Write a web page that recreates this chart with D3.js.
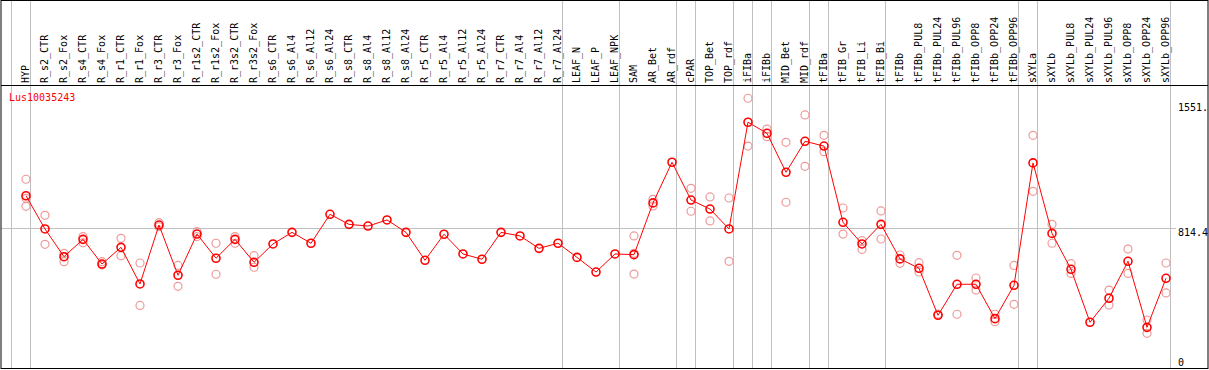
<!DOCTYPE html>
<html>
<head>
<meta charset="utf-8">
<script src="https://cdn.jsdelivr.net/npm/d3@7"></script>
<style>
  body { margin: 0; background: #fff; }
  text { font-family: "DejaVu Sans Mono", monospace; font-size: 10px; }
</style>
</head>
<body>
<script>
// sample names, one column each
const categories = ["HYP", "R_s2_CTR", "R_s2_Fox", "R_s4_CTR", "R_s4_Fox", "R_r1_CTR", "R_r1_Fox",
  "R_r3_CTR", "R_r3_Fox", "R_r1s2_CTR", "R_r1s2_Fox", "R_r3s2_CTR", "R_r3s2_Fox", "R_s6_CTR",
  "R_s6_Al4", "R_s6_Al12", "R_s6_Al24", "R_s8_CTR", "R_s8_Al4", "R_s8_Al12", "R_s8_Al24",
  "R_r5_CTR", "R_r5_Al4", "R_r5_Al12", "R_r5_Al24", "R_r7_CTR", "R_r7_Al4", "R_r7_Al12",
  "R_r7_Al24", "LEAF_N", "LEAF_P", "LEAF_NPK", "SAM", "AR_Bet", "AR_rdf", "cPAR", "TOP_Bet",
  "TOP_rdf", "iFIBa", "iFIBb", "MID_Bet", "MID_rdf", "tFIBa", "tFIB_Gr", "tFIB_Li", "tFIB_Bi",
  "tFIBb", "tFIBb_PUL8", "tFIBb_PUL24", "tFIBb_PUL96", "tFIBb_OPP8", "tFIBb_OPP24", "tFIBb_OPP96",
  "sXYLa", "sXYLb", "sXYLb_PUL8", "sXYLb_PUL24", "sXYLb_PUL96", "sXYLb_OPP8", "sXYLb_OPP24",
  "sXYLb_OPP96"];

// mean expression per sample
const means = [1006, 811, 648, 750, 605, 703, 488, 834, 539, 781, 639, 750, 615, 723,
  791, 727, 897, 838, 828, 864, 791, 627, 780, 664, 633, 791, 770, 697, 727, 644, 558, 664,
  660, 964, 1203, 981, 928, 811, 1438, 1373, 1144, 1326, 1298, 850, 723, 838, 635, 580, 304,
  486, 486, 284, 480, 1199, 785, 574, 263, 404, 621, 233, 521];

// individual replicates (pale circles)
const replicates = [
  [1103, 991, 944], [891, 721], [668, 619], [766, 730], [619, 599], [756, 654], [611, 362],
  [848, 824], [597, 474], [795, 766], [727, 545], [766, 727], [654, 586], [], [], [], [], [],
  [], [], [], [], [], [], [], [], [], [], [], [], [], [],
  [770, 668, 546], [985, 946], [], [1050, 915], [999, 858], [993, 621], [1579, 1298],
  [1398, 1353], [1320, 968], [1481, 1179], [1361, 1265], [934, 781], [742, 691], [917, 752],
  [658, 609], [613, 558], [311], [656, 310], [523, 452], [310, 266], [597, 368],
  [1361, 1032], [838, 727], [607, 550], [], [452, 364], [693, 550], [276, 198], [611, 435]];

// last sample of each group (gray separator after it)
const groupEnds = ["HYP", "R_r7_Al24", "LEAF_NPK", "AR_rdf", "cPAR", "TOP_rdf", "iFIBa", "iFIBb",
  "MID_rdf", "tFIBa", "tFIB_Bi", "tFIBb_OPP96", "sXYLa", "sXYLb_OPP96"];

const yMax = 1551, yMid = 814.4;
const geneName = "Lus10035243";

const width = 1209, height = 370;
const headerBottom = 85, plotBottom = 368;

const svg = d3.select("body").append("svg")
  .attr("width", width)
  .attr("height", height);

const x = d3.scalePoint().domain(categories).range([26, 1166]);
const step = x.step();
const y = d3.scaleLinear().domain([0, yMax]).range([367, 103]);

// gray group separators, full height
const sepX = [x("HYP") - step + 4.7].concat(groupEnds.map(c => x(c) + 4.7));
svg.append("g").selectAll("line")
  .data(sepX)
  .enter().append("line")
  .attr("x1", d => d).attr("x2", d => d)
  .attr("y1", 0).attr("y2", plotBottom)
  .attr("stroke", "#c0c0c0")
  .attr("shape-rendering", "crispEdges");

// horizontal reference line
svg.append("line")
  .attr("x1", 1).attr("x2", 1176)
  .attr("y1", Math.round(y(yMid)) + 0.5).attr("y2", Math.round(y(yMid)) + 0.5)
  .attr("stroke", "#c0c0c0");

// frame
svg.append("rect")
  .attr("x", 1).attr("y", 0.5)
  .attr("width", width - 2).attr("height", plotBottom)
  .attr("fill", "none").attr("stroke", "#000");
svg.append("line")
  .attr("x1", 1).attr("x2", width - 1)
  .attr("y1", headerBottom + 0.5).attr("y2", headerBottom + 0.5)
  .attr("stroke", "#000");

// rotated sample labels
svg.append("g").selectAll("text")
  .data(categories)
  .enter().append("text")
  .attr("transform", d => `translate(${x(d) + 3},83) rotate(-90)`)
  .attr("text-anchor", "start")
  .text(d => d);

// value labels on the right
const rightLabels = [["1551.", y(yMax) + 8], ["814.4", y(yMid) + 8], ["0", 366]];
svg.append("g").selectAll("text")
  .data(rightLabels)
  .enter().append("text")
  .attr("x", 1178)
  .attr("y", d => d[1])
  .text(d => d[0]);

svg.append("text")
  .attr("x", 9).attr("y", 101)
  .attr("fill", "red")
  .text(geneName);

// replicate points
const reps = [];
replicates.forEach((vals, i) => vals.forEach(v => reps.push([categories[i], v])));
svg.append("g").selectAll("circle")
  .data(reps)
  .enter().append("circle")
  .attr("cx", d => x(d[0]))
  .attr("cy", d => y(d[1]))
  .attr("r", 4)
  .attr("fill", "none")
  .attr("stroke", "#ee9999")
  .attr("stroke-width", 1.2);

// mean line
const line = d3.line()
  .x((d, i) => x(categories[i]))
  .y(d => y(d));
svg.append("path")
  .datum(means)
  .attr("d", line)
  .attr("fill", "none")
  .attr("stroke", "red")
  .attr("stroke-width", 1);

svg.append("g").selectAll("circle")
  .data(means)
  .enter().append("circle")
  .attr("cx", (d, i) => x(categories[i]))
  .attr("cy", d => y(d))
  .attr("r", 4)
  .attr("fill", "none")
  .attr("stroke", "red")
  .attr("stroke-width", 1.6);
</script>
</body>
</html>
